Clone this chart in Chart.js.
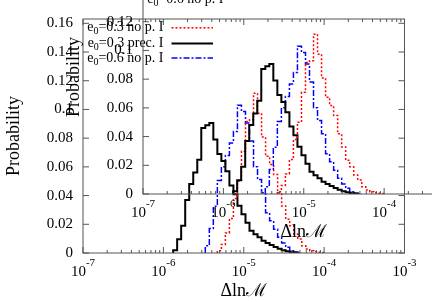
<!DOCTYPE html>
<html>
<head>
<meta charset="utf-8">
<script src="https://cdn.jsdelivr.net/npm/chart.js@4.4.1/dist/chart.umd.min.js"></script>
<style>
  html, body { margin: 0; padding: 0; background: #fff; }
  #wrap { position: relative; width: 432px; height: 302px; overflow: hidden; }
  canvas { position: absolute; }
  #main { left: 0; top: 0; }
  #inset { left: 60px; top: -59px; }
</style>
</head>
<body>
<div id="wrap">
  <canvas id="main" width="432" height="302"></canvas>
  <canvas id="inset" width="432" height="302"></canvas>
</div>
<script>
// histogram bin edges in ΔlnM (log spaced)
const binEdges = [
  1.323e-6, 1.484e-6, 1.665e-6, 1.869e-6, 2.097e-6, 2.353e-6, 2.640e-6, 2.962e-6, 3.324e-6, 3.729e-6,
  4.184e-6, 4.694e-6, 5.267e-6, 5.910e-6, 6.631e-6, 7.440e-6, 8.348e-6, 9.367e-6, 1.051e-5, 1.179e-5,
  1.323e-5, 1.484e-5, 1.665e-5, 1.869e-5, 2.097e-5, 2.353e-5, 2.640e-5, 2.962e-5, 3.324e-5, 3.729e-5,
  4.184e-5, 4.694e-5, 5.267e-5, 5.910e-5, 6.631e-5, 7.440e-5, 8.348e-5, 9.367e-5, 1.051e-4, 1.179e-4,
  1.323e-4, 1.484e-4
];

// e0=0.3 no p. I  (red, dotted)
const redStart = 11;
const redValues = [0.0015, 0.006, 0.014, 0.024, 0.038, 0.05, 0.0708, 0.0916, 0.0928, 0.1113,
  0.0974, 0.0808, 0.0674, 0.0616, 0.0547, 0.042, 0.0328, 0.0235, 0.0189, 0.0132,
  0.0097, 0.005, 0.0028, 0.0016, 0.0009, 0.0005, 0.0003];

// e0=0.3 prec. I  (black, solid)
const blackStart = 0;
const blackValues = [0.002, 0.0095, 0.019, 0.037, 0.048, 0.056, 0.065, 0.087, 0.089, 0.0905,
  0.079, 0.069, 0.064, 0.057, 0.047, 0.041, 0.033, 0.027, 0.021, 0.0155,
  0.013, 0.011, 0.0085, 0.007, 0.0055, 0.0042, 0.003, 0.002, 0.0013, 0.0007, 0.0003];

// e0=0.6 no p. I  (blue, dash-dot)
const blueStart = 8;
const blueValues = [0.005, 0.017, 0.0325, 0.0505, 0.060, 0.068, 0.0767, 0.0847, 0.103, 0.0985,
  0.0905, 0.078, 0.060, 0.0512, 0.042, 0.028, 0.0224, 0.0166, 0.011, 0.007,
  0.004, 0.0016, 0.0005, 0.0002];

const seriesNames = ["=0.3 no p. I", "=0.3 prec. I", "=0.6 no p. I"];
const yTicks = [0, 0.02, 0.04, 0.06, 0.08, 0.1, 0.12, 0.14, 0.16];
const xTicks = [1e-7, 1e-6, 1e-5, 1e-4, 1e-3];
const xTickExp = ["-7", "-6", "-5", "-4", "-3"];

const SERIF = "'Liberation Serif', 'Times New Roman', serif";

function histPoints(start, values) {
    const pts = [{ x: binEdges[start], y: 0 }];
    values.forEach((v, i) => pts.push({ x: binEdges[start + i], y: v }));
    pts.push({ x: binEdges[start + values.length], y: 0 });
    return pts;
}

// gnuplot-like frame, inward ticks, labels and key
const gnuplotLook = {
    id: "gnuplotLook",
    afterDatasetsDraw(chart) {
        const ctx = chart.ctx;
        const a = chart.chartArea;
        const xs = chart.scales.x;
        const ys = chart.scales.y;
        ctx.save();
        ctx.strokeStyle = "#555";
        ctx.lineWidth = 1;
        ctx.setLineDash([]);
        ctx.strokeRect(a.left, a.top, a.right - a.left, a.bottom - a.top);

        ctx.beginPath();
        // x ticks, major and minor (log)
        for (let d = 0; d < xTicks.length; d++) {
            const base = xTicks[d];
            const px = xs.getPixelForValue(base);
            ctx.moveTo(px, a.bottom); ctx.lineTo(px, a.bottom - 6);
            ctx.moveTo(px, a.top); ctx.lineTo(px, a.top + 6);
            if (d < xTicks.length - 1) {
                for (let m = 2; m < 10; m++) {
                    const mx = xs.getPixelForValue(base * m);
                    ctx.moveTo(mx, a.bottom); ctx.lineTo(mx, a.bottom - 3);
                    ctx.moveTo(mx, a.top); ctx.lineTo(mx, a.top + 3);
                }
            }
        }
        yTicks.forEach(v => {
            const py = ys.getPixelForValue(v);
            ctx.moveTo(a.left, py); ctx.lineTo(a.left + 6, py);
            ctx.moveTo(a.right, py); ctx.lineTo(a.right - 6, py);
        });
        ctx.stroke();

        // x tick labels 10^n
        ctx.fillStyle = "#000";
        ctx.textBaseline = "alphabetic";
        xTicks.forEach((v, i) => {
            const px = xs.getPixelForValue(v);
            ctx.font = "15px " + SERIF;
            const w1 = ctx.measureText("10").width;
            ctx.font = "11px " + SERIF;
            const w2 = ctx.measureText(xTickExp[i]).width;
            const x0 = px - (w1 + w2) / 2;
            ctx.font = "15px " + SERIF;
            ctx.textAlign = "left";
            ctx.fillText("10", x0, a.bottom + 23);
            ctx.font = "11px " + SERIF;
            ctx.fillText(xTickExp[i], x0 + w1, a.bottom + 13);
        });

        // axis titles
        ctx.font = "18px " + SERIF;
        ctx.textAlign = "center";
        ctx.textBaseline = "middle";
        ctx.fillText("Δln\u2133", (a.left + a.right) / 2, a.bottom + 38);
        ctx.save();
        ctx.translate(14, (a.top + a.bottom) / 2);
        ctx.rotate(-Math.PI / 2);
        ctx.fillText("Probability", 0, 0);
        ctx.restore();

        // key: right aligned text, sample line on the right
        const rowY = [8.8, 24.4, 39];
        const textRight = 163.5;
        chart.data.datasets.forEach((ds, i) => {
            const cy = a.top + rowY[i];
            const base = cy + 3.5;
            ctx.textBaseline = "alphabetic";
            ctx.textAlign = "left";
            ctx.font = "14px " + SERIF;
            const wE = ctx.measureText("e").width;
            const wR = ctx.measureText(seriesNames[i]).width;
            ctx.font = "10px " + SERIF;
            const w0 = ctx.measureText("0").width;
            const x0 = textRight - (wE + w0 + wR);
            ctx.font = "14px " + SERIF;
            ctx.fillText("e", x0, base);
            ctx.font = "10px " + SERIF;
            ctx.fillText("0", x0 + wE, base + 3);
            ctx.font = "14px " + SERIF;
            ctx.fillText(seriesNames[i], x0 + wE + w0, base);

            ctx.beginPath();
            ctx.strokeStyle = ds.borderColor;
            ctx.lineWidth = ds.borderWidth;
            ctx.setLineDash(ds.borderDash || []);
            ctx.moveTo(171.5, cy);
            ctx.lineTo(213, cy);
            ctx.stroke();
        });
        ctx.restore();
    }
};

function makeChart(id) {
    return new Chart(document.getElementById(id), {
        type: "line",
        data: {
            datasets: [
                {
                    label: "e0" + seriesNames[0],
                    data: histPoints(redStart, redValues),
                    borderColor: "#ff0000",
                    borderWidth: 1.5,
                    borderDash: [2, 2],
                    stepped: true,
                    pointRadius: 0
                },
                {
                    label: "e0" + seriesNames[1],
                    data: histPoints(blackStart, blackValues),
                    borderColor: "#000000",
                    borderWidth: 2,
                    stepped: true,
                    pointRadius: 0
                },
                {
                    label: "e0" + seriesNames[2],
                    data: histPoints(blueStart, blueValues),
                    borderColor: "#0000ff",
                    borderWidth: 1.5,
                    borderDash: [6, 2, 2, 2],
                    stepped: true,
                    pointRadius: 0
                }
            ]
        },
        options: {
            responsive: false,
            animation: false,
            devicePixelRatio: 1,
            layout: { padding: { top: 17.5, right: 27.5, left: 0, bottom: 0 } },
            plugins: { legend: { display: false }, tooltip: { enabled: false } },
            scales: {
                x: {
                    type: "logarithmic",
                    min: 1e-7,
                    max: 1e-3,
                    grid: { display: false, drawTicks: false },
                    border: { display: false },
                    ticks: { display: false },
                    afterFit: s => { s.height = 49; }
                },
                y: {
                    min: 0,
                    max: 0.163,
                    grid: { display: false, drawTicks: false },
                    border: { display: false },
                    ticks: {
                        color: "#000",
                        padding: 10,
                        font: { family: SERIF, size: 15 },
                        callback: v => String(+(+v).toFixed(2))
                    },
                    afterBuildTicks: s => { s.ticks = yTicks.map(v => ({ value: v })); },
                    afterFit: s => { s.width = 83; }
                }
            }
        },
        plugins: [gnuplotLook]
    });
}

makeChart("main");
makeChart("inset");
</script>
</body>
</html>
